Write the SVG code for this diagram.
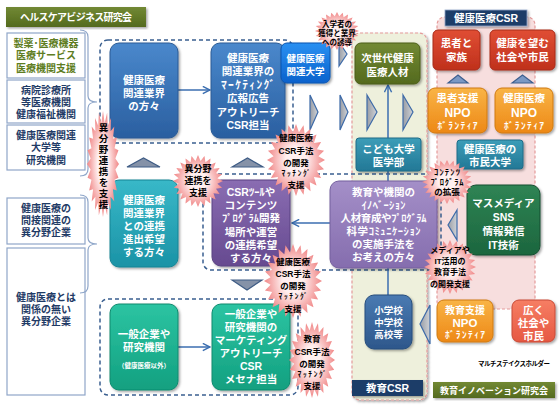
<svg xmlns="http://www.w3.org/2000/svg" xmlns:xlink="http://www.w3.org/1999/xlink" width="560" height="407" viewBox="0 0 560 407">
<defs>
<style>
.t{font-family:'Liberation Sans','Noto Sans CJK JP','Noto Sans CJK SC',sans-serif;font-weight:bold;text-anchor:middle}
.w{fill:#fff}
.k{fill:#000}
.nv{fill:#1f3b66}
.ol{fill:#5e7d22}
.lb{fill:#fff;stroke:#8fa6c9;stroke-width:1.2}
.grp{fill:none;stroke:#3a5f90;stroke-width:1.5;stroke-dasharray:4 3}
.pan{stroke:#e49a9a;stroke-width:1.2;stroke-dasharray:3 2}
.br{fill:none;stroke:#8fa6c9;stroke-width:1.2}
.ar{fill:none;stroke:#3b6eb0;stroke-width:1.5}
.chev{fill:url(#gch);stroke:#3d6aa8;stroke-width:1.2}
.tri{fill:#8592a8;stroke:#3e5c85;stroke-width:1.2}
.tri2{fill:#7b98c4;stroke:#3d5f8f;stroke-width:1.2}
</style>
<linearGradient id="gblue" x1="0" y1="0" x2="0" y2="1"><stop offset="0" stop-color="#4a88cc"/><stop offset="1" stop-color="#2a5fa0"/></linearGradient>
<linearGradient id="gbb" x1="0" y1="0" x2="0" y2="1"><stop offset="0" stop-color="#2a90f2"/><stop offset="1" stop-color="#0a62cc"/></linearGradient>
<linearGradient id="gteal" x1="0" y1="0" x2="0" y2="1"><stop offset="0" stop-color="#38b8c8"/><stop offset="1" stop-color="#1b93a6"/></linearGradient>
<linearGradient id="gteal2" x1="0" y1="0" x2="0" y2="1"><stop offset="0" stop-color="#3c9db8"/><stop offset="1" stop-color="#237896"/></linearGradient>
<linearGradient id="gpur" x1="0" y1="0" x2="0" y2="1"><stop offset="0" stop-color="#8a6db2"/><stop offset="1" stop-color="#664a90"/></linearGradient>
<linearGradient id="gpur2" x1="0" y1="0" x2="0" y2="1"><stop offset="0" stop-color="#a48fc8"/><stop offset="1" stop-color="#856dae"/></linearGradient>
<linearGradient id="ggrn" x1="0" y1="0" x2="0" y2="1"><stop offset="0" stop-color="#2cc4a2"/><stop offset="1" stop-color="#12a080"/></linearGradient>
<linearGradient id="gdg" x1="0" y1="0" x2="0" y2="1"><stop offset="0" stop-color="#2f8454"/><stop offset="1" stop-color="#1c663e"/></linearGradient>
<linearGradient id="golv" x1="0" y1="0" x2="0" y2="1"><stop offset="0" stop-color="#728934"/><stop offset="1" stop-color="#546a1e"/></linearGradient>
<linearGradient id="gred" x1="0" y1="0" x2="0" y2="1"><stop offset="0" stop-color="#e04e34"/><stop offset="1" stop-color="#bf301c"/></linearGradient>
<linearGradient id="gor" x1="0" y1="0" x2="0" y2="1"><stop offset="0" stop-color="#f9b446"/><stop offset="1" stop-color="#ed8816"/></linearGradient>
<linearGradient id="gcor" x1="0" y1="0" x2="0" y2="1"><stop offset="0" stop-color="#f67e64"/><stop offset="1" stop-color="#e65842"/></linearGradient>
<linearGradient id="gst" x1="0" y1="0" x2="0" y2="1"><stop offset="0" stop-color="#4a7ab2"/><stop offset="1" stop-color="#2d578b"/></linearGradient>
<linearGradient id="gch" x1="0" y1="0" x2="1" y2="0"><stop offset="0" stop-color="#9a9ea6"/><stop offset="1" stop-color="#cfd2d6"/></linearGradient>
<radialGradient id="gb" cx=".5" cy=".5" r=".5"><stop offset=".35" stop-color="#fff0f0"/><stop offset="1" stop-color="#f08686"/></radialGradient>
<filter id="sh" x="-10%" y="-10%" width="125%" height="125%"><feDropShadow dx="1.5" dy="1.5" stdDeviation="1.2" flood-color="#000" flood-opacity="0.35"/></filter>
<polygon id="bp" fill="url(#gb)" points="1,0 .7733,.1018 .9659,.2588 .7206,.2985 .866,.5 .6188,.4748 .7071,.7071 .4748,.6188 .5,.866 .2985,.7206 .2588,.9659 .1018,.7733 0,1 -.1018,.7733 -.2588,.9659 -.2985,.7206 -.5,.866 -.4748,.6188 -.7071,.7071 -.6188,.4748 -.866,.5 -.7206,.2985 -.9659,.2588 -.7733,.1018 -1,0 -.7733,-.1018 -.9659,-.2588 -.7206,-.2985 -.866,-.5 -.6188,-.4748 -.7071,-.7071 -.4748,-.6188 -.5,-.866 -.2985,-.7206 -.2588,-.9659 -.1018,-.7733 0,-1 .1018,-.7733 .2588,-.9659 .2985,-.7206 .5,-.866 .4748,-.6188 .7071,-.7071 .6188,-.4748 .866,-.5 .7206,-.2985 .9659,-.2588 .7733,-.1018"/>
<marker id="ah" viewBox="0 0 10 10" refX="9" refY="5" markerWidth="9" markerHeight="9" markerUnits="userSpaceOnUse" orient="auto"><path d="M1,1 L9,5 L1,9" fill="none" stroke="#3b6eb0" stroke-width="1.6"/></marker>
</defs>

<rect width="560" height="407" fill="#fff"/>

<g id="panels">
<rect x="352" y="33" width="75" height="367" rx="8" class="pan" fill="#eef0dc" filter="url(#sh)"/>
<rect x="437" y="17" width="98" height="292" rx="8" class="pan" fill="#f7dede"/>
</g>

<g id="groups">
<rect x="100" y="40" width="193" height="103" rx="8" class="grp"/>
<rect x="203" y="174" width="238" height="96" rx="8" class="grp"/>
<rect x="100" y="299" width="198" height="96" rx="8" class="grp"/>
</g>

<g id="title-hb"><rect x="6" y="7" width="140" height="20" fill="url(#golv)" filter="url(#sh)"/><text x="76" y="21" class="t w" font-size="10" textLength="112">ヘルスケアビジネス研究会</text></g>
<g id="lbox1"><rect x="7" y="33" width="78" height="45" class="lb"/><text class="t ol" font-size="10" x="46" y="47">製薬･医療機器<tspan x="46" dy="12">医療サービス</tspan><tspan x="46" dy="13">医療機関支援</tspan></text></g>
<g id="lbox2"><rect x="7" y="80" width="78" height="43" class="lb"/><text class="t nv" font-size="10" x="46" y="94">病院診療所<tspan x="46" dy="12">等医療機関</tspan><tspan x="46" dy="12">健康福祉機関</tspan></text></g>
<g id="lbox3"><rect x="7" y="125" width="78" height="45" class="lb"/><text class="t nv" font-size="10" x="46" y="139">健康医療関連<tspan x="46" dy="12">大学等</tspan><tspan x="46" dy="13">研究機関</tspan></text></g>
<g id="lbox4"><rect x="7" y="198" width="78" height="46" class="lb"/><text class="t nv" font-size="10" x="46" y="212">健康医療の<tspan x="46" dy="12">間接関連の</tspan><tspan x="46" dy="12">異分野企業</tspan></text></g>
<g id="lbox5"><rect x="7" y="248" width="78" height="147" class="lb"/><text class="t nv" font-size="10" x="46" y="301">健康医療とは<tspan x="46" dy="12">関係の無い</tspan><tspan x="46" dy="12">異分野企業</tspan></text></g>
<g id="brackets">
<path class="br" d="M80,30 Q88,30 88,37 L88,96 Q88,102 97,102 Q88,102 88,108 L88,169 Q88,176 80,176"/>
<path class="br" d="M80,195 Q88,195 88,202 L88,238 Q88,244 97,244 Q88,244 88,250 L88,286 Q88,293 80,293"/>
</g>

<g id="connectors">
<path class="ar" d="M178,90 H210" marker-end="url(#ah)"/>
<path class="ar" d="M178,347 H210" marker-end="url(#ah)"/>
<path class="ar" d="M330,223 H292" marker-end="url(#ah)"/>
<path class="ar" d="M388,138 V85" marker-end="url(#ah)"/>
<path class="ar" d="M388,171 V181"/>
<path class="ar" d="M388,268 V295"/>
<polygon class="chev" points="310,95 318,112 310,130"/>
<polygon class="chev" points="340,95 348,112 340,130"/>
<polygon class="chev" points="339,42 347,54 339,66"/>
<polygon class="chev" points="367,95 377,112 367,130"/>
<polygon class="chev" points="403,95 413,112 403,130"/>
<polygon class="chev" points="457,210 448,225 457,240"/>
<polygon class="chev" points="430,305 420,324 430,344"/>
<polygon class="tri" points="127,167 143.5,158 160,167"/>
<polygon class="tri" points="232,167 247.5,158 263,167"/>
<polygon class="tri" points="232,280 247,290 262,280"/>
<polygon class="tri2" points="448,83 458,75 468,83"/>
<polygon class="tri2" points="512,83 522.5,75 533,83"/>
</g>

<g id="n-kanren"><rect x="110" y="43" width="68" height="95" rx="9" fill="url(#gblue)" stroke="#2a5a95" filter="url(#sh)"/><text class="t w" font-size="10.5" x="144" y="84">健康医療<tspan x="144" dy="13">関連業界</tspan><tspan x="144" dy="13">の方々</tspan></text></g>
<g id="n-marketing"><rect x="211" y="43" width="74" height="95" rx="9" fill="url(#gblue)" stroke="#2a5a95" filter="url(#sh)"/><text class="t w" font-size="10.5" x="248" y="62">健康医療<tspan x="248" dy="13.4">関連業界の</tspan><tspan x="248" dy="13.4" font-size="11.5" textLength="54">ﾏｰｹﾃｨﾝｸﾞ</tspan><tspan x="248" dy="13.4">広報広告</tspan><tspan x="248" dy="13.4">アウトリーチ</tspan><tspan x="248" dy="13.4">CSR担当</tspan></text></g>
<g id="n-daigaku"><rect x="281" y="43" width="49" height="40" rx="6" fill="url(#gbb)" stroke="#0a55b0" filter="url(#sh)"/><text class="t w" font-size="9.5" x="305.5" y="62">健康医療<tspan x="305.5" dy="13">関連大学</tspan></text></g>
<g id="n-renkei"><rect x="110" y="180" width="68" height="87" rx="9" fill="url(#gteal)" stroke="#178494" filter="url(#sh)"/><text class="t w" font-size="10.5" x="144" y="204">健康医療<tspan x="144" dy="13">関連業界</tspan><tspan x="144" dy="13">との連携</tspan><tspan x="144" dy="13">進出希望</tspan><tspan x="144" dy="13">する方々</tspan></text></g>
<g id="n-csrtool"><rect x="212" y="180" width="78" height="86" rx="9" fill="url(#gpur)" stroke="#5a4282" filter="url(#sh)"/><text class="t w" font-size="10.5" x="251" y="196">CSRﾂｰﾙや<tspan x="251" dy="13.2">コンテンツ</tspan><tspan x="251" dy="13.2" textLength="58">ﾌﾟﾛｸﾞﾗﾑ開発</tspan><tspan x="251" dy="13.2">場所や運営</tspan><tspan x="251" dy="13.2">の連携希望</tspan><tspan x="251" dy="13.2">する方々</tspan></text></g>
<g id="n-kyoiku"><rect x="330" y="181" width="107" height="87" rx="9" fill="url(#gpur2)" stroke="#75609e" filter="url(#sh)"/><text class="t w" font-size="10.5" x="383.5" y="196">教育や機関の<tspan x="383.5" dy="13" textLength="44">ｲﾉﾍﾞｰｼｮﾝ</tspan><tspan x="383.5" dy="13" textLength="86">人材育成やﾌﾟﾛｸﾞﾗﾑ</tspan><tspan x="383.5" dy="13" textLength="74">科学ｺﾐｭﾆｹｰｼｮﾝ</tspan><tspan x="383.5" dy="13">の実施手法を</tspan><tspan x="383.5" dy="13">お考えの方々</tspan></text></g>
<g id="n-ippan"><rect x="110" y="304" width="68" height="86" rx="9" fill="url(#ggrn)" stroke="#0f8a6e" filter="url(#sh)"/><text class="t w" font-size="10.5" x="144" y="338">一般企業や<tspan x="144" dy="13">研究機関</tspan><tspan x="144" dy="17" font-size="6.5">（健康医療以外）</tspan></text></g>
<g id="n-ippan-mk"><rect x="212" y="304" width="78" height="86" rx="9" fill="url(#ggrn)" stroke="#0f8a6e" filter="url(#sh)"/><text class="t w" font-size="10.5" x="251" y="318">一般企業や<tspan x="251" dy="13">研究機関の</tspan><tspan x="251" dy="13">マーケティング</tspan><tspan x="251" dy="13">アウトリーチ</tspan><tspan x="251" dy="13">CSR</tspan><tspan x="251" dy="13">メセナ担当</tspan></text></g>
<g id="n-jisedai"><rect x="355" y="43" width="65" height="41" rx="6" fill="url(#golv)" stroke="#4b5e1a" filter="url(#sh)"/><text class="t w" font-size="10.5" x="387.5" y="62">次世代健康<tspan x="387.5" dy="14">医療人材</tspan></text></g>
<g id="n-kodomo"><rect x="356" y="138" width="65" height="33" rx="3" fill="url(#gteal2)" stroke="#1f6c88" filter="url(#sh)"/><text class="t w" font-size="10.5" x="388.5" y="153">こども大学<tspan x="388.5" dy="13">医学部</tspan></text></g>
<g id="n-shimin"><rect x="457" y="140" width="66" height="29" rx="3" fill="url(#gteal2)" stroke="#1f6c88" filter="url(#sh)"/><text class="t w" font-size="10.5" x="490" y="153">健康医療の<tspan x="490" dy="13">市民大学</tspan></text></g>
<g id="n-gakko"><rect x="365" y="295" width="47" height="54" rx="9" fill="url(#gst)" stroke="#264d7c" filter="url(#sh)"/><text class="t w" font-size="9.5" x="388.5" y="314">小学校<tspan x="388.5" dy="12">中学校</tspan><tspan x="388.5" dy="12">高校等</tspan></text></g>
<g id="title-csr"><rect x="445" y="10" width="82" height="16" fill="#1f3d68" stroke="#8fa6c9" stroke-width="0.8" filter="url(#sh)"/><text class="t w" font-size="10.5" x="486" y="22">健康医療CSR</text></g>
<g id="n-kanja"><rect x="433" y="30" width="47" height="40" rx="5" fill="url(#gred)" stroke="#a82a18" filter="url(#sh)"/><text class="t w" font-size="10.5" x="456.5" y="47">患者と<tspan x="456.5" dy="14">家族</tspan></text></g>
<g id="n-shakai"><rect x="490" y="30" width="65" height="40" rx="5" fill="url(#gred)" stroke="#a82a18" filter="url(#sh)"/><text class="t w" font-size="10.5" x="522.5" y="47">健康を望む<tspan x="522.5" dy="14">社会や市民</tspan></text></g>
<g id="n-npo1"><rect x="428" y="88" width="59" height="45" rx="7" fill="url(#gor)" stroke="#d07a10" filter="url(#sh)"/><text class="t w" font-size="10.5" x="457.5" y="102">患者支援<tspan x="457.5" dy="15" font-size="12">NPO</tspan><tspan x="457.5" dy="12" font-size="9.5" textLength="40">ﾎﾞﾗﾝﾃｨｱ</tspan></text></g>
<g id="n-npo2"><rect x="495" y="88" width="58" height="45" rx="7" fill="url(#gor)" stroke="#d07a10" filter="url(#sh)"/><text class="t w" font-size="10.5" x="524" y="102">健康医療<tspan x="524" dy="15" font-size="12">NPO</tspan><tspan x="524" dy="12" font-size="9.5" textLength="40">ﾎﾞﾗﾝﾃｨｱ</tspan></text></g>
<g id="n-media"><rect x="467" y="185" width="73" height="70" rx="9" fill="url(#gdg)" stroke="#174f31" filter="url(#sh)"/><text class="t w" font-size="10.5" x="503.5" y="207">マスメディア<tspan x="503.5" dy="14">SNS</tspan><tspan x="503.5" dy="14">情報発信</tspan><tspan x="503.5" dy="14">IT技術</tspan></text></g>
<g id="n-npo3"><rect x="437" y="300" width="56" height="42" rx="7" fill="url(#gor)" stroke="#d07a10" filter="url(#sh)"/><text class="t w" font-size="10" x="465" y="314">教育支援<tspan x="465" dy="13" font-size="11.5">NPO</tspan><tspan x="465" dy="11" font-size="9.5" textLength="40">ﾎﾞﾗﾝﾃｨｱ</tspan></text></g>
<g id="n-hiroku"><rect x="512" y="300" width="43" height="42" rx="7" fill="url(#gcor)" stroke="#c84a36" filter="url(#sh)"/><text class="t w" font-size="10.5" x="533.5" y="314">広く<tspan x="533.5" dy="13">社会や</tspan><tspan x="533.5" dy="13">市民</tspan></text></g>
<g id="title-kcsr"><rect x="352" y="380" width="71" height="16" fill="#1f3d68" filter="url(#sh)"/><text class="t w" font-size="10.5" x="387.5" y="392">教育CSR</text></g>
<g id="title-kir"><rect x="433" y="382" width="122" height="16" fill="url(#golv)" filter="url(#sh)"/><text class="t w" font-size="9" x="494" y="394">教育イノベーション研究会</text></g>
<g id="label-multi"><text class="t k" font-size="6.5" x="514" y="366" textLength="72">マルチステイクスホルダー</text></g>

<g id="b-ibunya-v"><use xlink:href="#bp" href="#bp" transform="translate(103,164) scale(16,53)"/>
<text class="t k" font-size="9.5" x="103" y="167" style="writing-mode:vertical-rl" letter-spacing="1.5">異分野連携を支援</text></g>
<g id="b-ibunya"><use xlink:href="#bp" href="#bp" transform="translate(198,181) scale(25,26)"/><text class="t k" font-size="9" x="198" y="172">異分野<tspan x="198" dy="12">連携を</tspan><tspan x="198" dy="12">支援</tspan></text></g>
<g id="b-kenko1"><use xlink:href="#bp" href="#bp" transform="translate(296,160) scale(29,36)"/><text class="t k" font-size="8.5" x="296" y="141">健康医療<tspan x="296" dy="13">CSR手法</tspan><tspan x="296" dy="12">の開発</tspan><tspan x="296" dy="10" font-size="7.5" textLength="29">ﾏｯﾁﾝｸﾞ</tspan><tspan x="296" dy="12">支援</tspan></text></g>
<g id="b-kenko2"><use xlink:href="#bp" href="#bp" transform="translate(293,281) scale(29,37)"/><text class="t k" font-size="8.5" x="293" y="265">健康医療<tspan x="293" dy="12">CSR手法</tspan><tspan x="293" dy="12">の開発</tspan><tspan x="293" dy="10" font-size="7.5" textLength="29">ﾏｯﾁﾝｸﾞ</tspan><tspan x="293" dy="13">支援</tspan></text></g>
<g id="b-kyoiku"><use xlink:href="#bp" href="#bp" transform="translate(312,360) scale(23,38)"/><text class="t k" font-size="8.5" x="312" y="342">教育<tspan x="312" dy="13">CSR手法</tspan><tspan x="312" dy="12">の開発</tspan><tspan x="312" dy="10" font-size="7.5" textLength="29">ﾏｯﾁﾝｸﾞ</tspan><tspan x="312" dy="12">支援</tspan></text></g>
<g id="b-nyugaku"><use xlink:href="#bp" href="#bp" transform="translate(337,31) scale(22,19)"/><text class="t k" font-size="7.5" x="337" y="27">入学者の<tspan x="337" dy="9">獲得と業界</tspan><tspan x="337" dy="9">への誘導</tspan></text></g>
<g id="b-content"><use xlink:href="#bp" href="#bp" transform="translate(447,182) scale(25,22)"/><text class="t k" font-size="8.5" x="447" y="175"><tspan x="447" textLength="26">ｺﾝﾃﾝﾂ</tspan><tspan x="447" dy="10" textLength="33">ﾌﾟﾛｸﾞﾗﾑ</tspan><tspan x="447" dy="10">の拡張</tspan></text></g>
<g id="b-media"><use xlink:href="#bp" href="#bp" transform="translate(450,267) scale(26,27)"/><text class="t k" font-size="8" x="450" y="253">メディアや<tspan x="450" dy="11">IT活用の</tspan><tspan x="450" dy="11">教育手法</tspan><tspan x="450" dy="12">の開発支援</tspan></text></g>
</svg>
